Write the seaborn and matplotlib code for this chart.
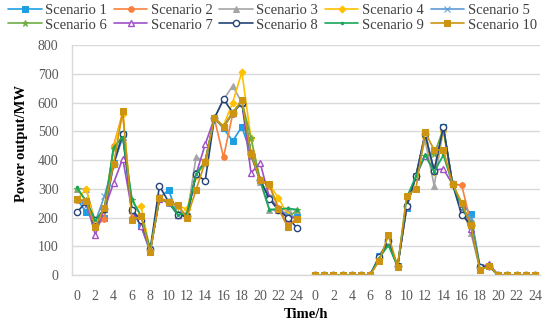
import matplotlib
matplotlib.use('Agg')
import matplotlib.pyplot as plt
import numpy as np
import pandas as pd
import seaborn as sns

hours = list(range(25))
scenarios = ['Scenario {}'.format(i) for i in range(1, 11)]

# day 1 output (MW), hours 0..24
day1 = {
    'Scenario 1': [264, 219, 185, 198, 390, 490, 226, 170, 80, 268, 296, 210, 202, 356, 394, 546, 510, 466, 516, 420, 330, 268, 228, 205, 202],
    'Scenario 2': [262, 258, 170, 195, 450, 565, 200, 195, 85, 270, 255, 240, 205, 350, 395, 545, 410, 560, 605, 425, 330, 310, 235, 175, 195],
    'Scenario 3': [300, 300, 185, 230, 385, 480, 225, 190, 85, 265, 250, 210, 205, 410, 395, 545, 610, 658, 600, 415, 325, 226, 225, 230, 225],
    'Scenario 4': [262, 300, 180, 235, 445, 560, 225, 240, 85, 265, 255, 240, 230, 345, 390, 545, 520, 600, 706, 475, 330, 315, 268, 210, 195],
    'Scenario 5': [265, 240, 185, 275, 390, 480, 225, 195, 85, 265, 255, 215, 205, 350, 390, 545, 515, 565, 600, 420, 330, 270, 230, 210, 200],
    'Scenario 6': [300, 260, 185, 230, 440, 485, 260, 205, 85, 265, 255, 215, 210, 350, 395, 545, 515, 565, 605, 475, 330, 270, 230, 200, 225],
    'Scenario 7': [265, 255, 140, 230, 320, 405, 225, 170, 85, 265, 255, 210, 205, 350, 455, 545, 515, 565, 600, 355, 390, 270, 230, 200, 200],
    'Scenario 8': [218, 255, 190, 230, 385, 490, 225, 190, 90, 310, 255, 210, 205, 350, 328, 545, 612, 565, 600, 420, 330, 265, 225, 200, 165],
    'Scenario 9': [305, 255, 190, 230, 445, 480, 265, 205, 90, 265, 255, 210, 215, 350, 395, 545, 515, 565, 605, 425, 330, 228, 230, 232, 228],
    'Scenario 10': [265, 258, 168, 234, 386, 570, 191, 205, 80, 268, 254, 243, 199, 296, 393, 546, 515, 563, 609, 421, 330, 316, 230, 168, 195],
}

# day 2 output (MW), hours 0..24
z6 = [0, 0, 0, 0, 0, 0, 0]
z5 = [0, 0, 0, 0, 0]
day2 = {
    'Scenario 1': z6 + [67, 118, 30, 234, 344, 490, 362, 516, 316, 250, 212, 29, 30] + z5,
    'Scenario 2': z6 + [60, 118, 30, 240, 344, 480, 365, 510, 316, 313, 180, 25, 30] + z5,
    'Scenario 3': z6 + [60, 115, 30, 240, 340, 470, 310, 510, 316, 240, 147, 20, 30] + z5,
    'Scenario 4': z6 + [55, 125, 30, 240, 345, 480, 360, 500, 316, 250, 175, 25, 32] + z5,
    'Scenario 5': z6 + [62, 118, 30, 240, 344, 490, 362, 512, 316, 230, 200, 25, 30] + z5,
    'Scenario 6': z6 + [60, 105, 30, 245, 344, 415, 420, 510, 316, 240, 180, 25, 30] + z5,
    'Scenario 7': z6 + [60, 115, 30, 240, 344, 415, 365, 369, 316, 240, 160, 28, 38] + z5,
    'Scenario 8': z6 + [62, 118, 30, 240, 344, 490, 362, 516, 316, 209, 175, 27, 30] + z5,
    'Scenario 9': z6 + [60, 105, 30, 270, 344, 417, 360, 417, 316, 240, 175, 22, 30] + z5,
    'Scenario 10': z6 + [50, 139, 29, 275, 299, 497, 435, 435, 317, 251, 174, 17, 32] + z5,
}

colors = ['#1F9FE3', '#F8803D', '#A5A5A5', '#FFC000', '#5B9BD5',
          '#70AD47', '#A050C8', '#264478', '#17A85A', '#CC9410']
markers = ['s', 'o', '^', 'D', 'x', '*', '^', 'o', '.', 's']
msizes = [4, 4, 4, 3.5, 4, 4.5, 4.5, 4.5, 3.5, 4.8]
open_marker = [False] * 6 + [True, True, False, False]

sns.set_theme(style='white')
plt.rcParams['font.family'] = ['Liberation Serif', 'DejaVu Serif']

fig = plt.figure(figsize=(5.5, 3.24), dpi=100)
ax = fig.add_axes([0.1316, 0.151, 0.8494, 0.710])

# day 2 sits after one blank category
x1 = np.array(hours)
x2 = np.array(hours) + 26

for i, name in enumerate(scenarios):
    kw = dict(color=colors[i], marker=markers[i], markersize=msizes[i],
              linewidth=1.2, markeredgecolor=colors[i], ax=ax)
    if open_marker[i]:
        kw['markerfacecolor'] = 'white'
        kw['markeredgewidth'] = 1.0
    sns.lineplot(x=x1, y=day1[name], label=name, **kw)
    sns.lineplot(x=x2, y=day2[name], label='_nolegend_', **kw)

ax.set_xlim(-0.5, 50.5)
ax.set_ylim(0, 800)
ax.set_yticks(range(0, 801, 100))
ticks = list(range(0, 25, 2)) + list(range(26, 51, 2))
ax.set_xticks(ticks)
ax.set_xticklabels([str(t if t <= 24 else t - 26) for t in ticks])
ax.tick_params(axis='both', length=0, labelsize=10, colors='#595959')
ax.tick_params(axis='y', pad=10)
ax.tick_params(axis='x', pad=11)
ax.yaxis.grid(True, color='#D9D9D9', linewidth=1.0)
ax.xaxis.grid(False)
for s in ['top', 'right']:
    ax.spines[s].set_visible(False)
for s in ['left', 'bottom']:
    ax.spines[s].set_color('#D9D9D9')
    ax.spines[s].set_linewidth(1.0)

ax.set_xlabel('Time/h', fontsize=10.5, fontweight='bold', color='black', labelpad=3)
ax.set_ylabel('Power output/MW', fontsize=10.5, fontweight='bold', color='black')
ax.yaxis.set_label_coords(-0.095, 0.574)

h, l = ax.get_legend_handles_labels()
order = [0, 5, 1, 6, 2, 7, 3, 8, 4, 9]
ax.legend([h[k] for k in order], [l[k] for k in order], ncol=5,
          loc='upper left', bbox_to_anchor=(-0.15, 1.205), frameon=False,
          fontsize=10.5, handlelength=2.3, handletextpad=0.25,
          columnspacing=0.45, labelspacing=0.1, borderaxespad=0,
          labelcolor='#404040')

fig.savefig('out.png', dpi=100)
